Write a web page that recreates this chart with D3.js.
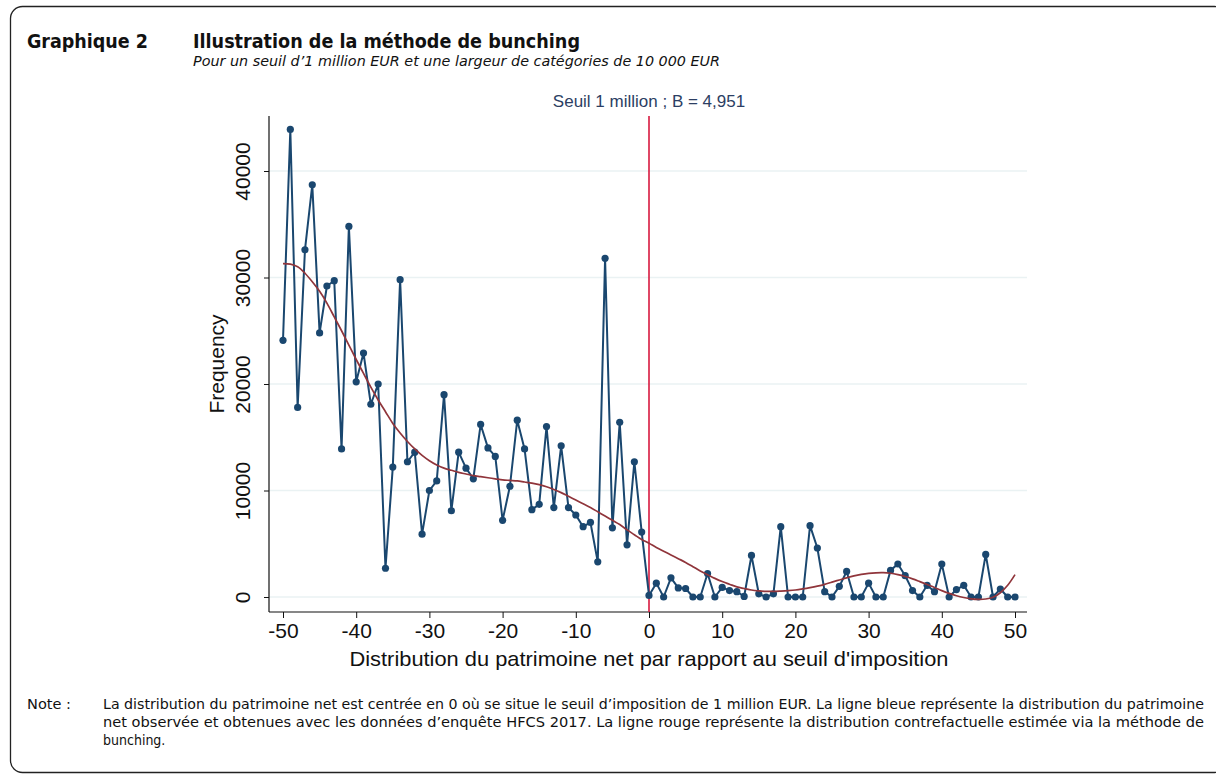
<!DOCTYPE html>
<html>
<head>
<meta charset="utf-8">
<script src="https://cdn.jsdelivr.net/npm/d3@7/dist/d3.min.js"></script>
<style>
  html, body { margin: 0; padding: 0; background: #fff; }
  svg { display: block; }
</style>
</head>
<body>
<svg id="chart" width="1216" height="776"></svg>
<script>
// ---- Data ----
const bins = d3.range(-50, 51); // -50 .. 50
const observed = [
  24100, 43900, 17800, 32600, 38700, 24800, 29200, 29700, 13900, 34800,
  20200, 22900, 18100, 20000, 2700, 12200, 29800, 12700, 13600, 5900,
  10000, 10900, 19000, 8100, 13600, 12100, 11100, 16200, 14000, 13200,
  7200, 10400, 16600, 13900, 8200, 8700, 16000, 8400, 14200, 8400,
  7700, 6600, 7000, 3300, 31800, 6500, 16400, 4900, 12700, 6100,
  150,
  1300, 0, 1800, 850, 800, 0, 0, 2200, 0, 900,
  600, 500, 50, 3900, 300, 0, 300, 6600, 0, 0,
  0, 6700, 4600, 500, 0, 1000, 2400, 0, 0, 1300,
  0, 0, 2500, 3100, 2000, 600, 0, 1100, 500, 3100,
  0, 700, 1100, 0, 0, 4000, 0, 750, 0, 0
];
const counterfactual = [
  31300, 31250, 31000, 30400, 29600, 28700, 27600, 26300, 25000, 23650,
  22300, 21000, 19700, 18500, 17400, 16300, 15400, 14600, 13900, 13300,
  12800, 12400, 12100, 11900, 11700, 11550, 11400, 11300, 11200, 11100,
  11000, 10950, 10900, 10800, 10700, 10550, 10350, 10100, 9800, 9450,
  9100, 8750, 8400, 8000, 7600, 7200, 6800, 6300, 5850, 5400,
  5050,
  4650, 4300, 3950, 3600, 3250, 2850, 2450, 2100, 1750, 1450,
  1200, 950, 800, 660, 580, 530, 530, 560, 600, 660,
  760, 880, 1020, 1190, 1400, 1600, 1800, 1980, 2120, 2220,
  2270, 2280, 2230, 2100, 1920, 1700, 1440, 1170, 900, 600,
  340, 120, -50, -170, -220, -190, -30, 400, 1100, 2100
];
const xTicks = [-50, -40, -30, -20, -10, 0, 10, 20, 30, 40, 50];
const yTicks = [0, 10000, 20000, 30000, 40000];
const threshold = 0;
const bunchingLabel = "Seuil 1 million ; B = 4,951";

const titleNum = "Graphique 2";
const titleText = "Illustration de la méthode de bunching";
const subtitleText = "Pour un seuil d\u20191 million EUR et une largeur de catégories de 10 000 EUR";
const noteLabel = "Note :";
const noteLines = [
  "La distribution du patrimoine net est centrée en 0 où se situe le seuil d\u2019imposition de 1 million EUR. La ligne bleue représente la distribution du patrimoine",
  "net observée et obtenues avec les données d\u2019enquête HFCS 2017. La ligne rouge représente la distribution contrefactuelle estimée via la méthode de",
  "bunching."
];

// ---- Layout ----
const svg = d3.select("#chart");
const plot = { left: 269, right: 1027, top: 116, bottom: 612 };
const x = d3.scaleLinear().domain([-50, 50]).range([283, 1015]);
const y = d3.scaleLinear().domain([0, 40000]).range([597, 171]);

const narrow = "'DejaVu Sans Condensed', 'Liberation Sans Narrow', 'DejaVu Sans', sans-serif";
const arial = "'Liberation Sans', Arial, sans-serif";

// frame
svg.append("rect")
  .attr("x", 10.5).attr("y", 6.5)
  .attr("width", 1216).attr("height", 766)
  .attr("rx", 12).attr("ry", 12)
  .attr("fill", "none").attr("stroke", "#222").attr("stroke-width", 1.3);

// titles
svg.append("text").attr("x", 27).attr("y", 48)
  .attr("font-family", narrow).attr("font-weight", "bold").attr("font-size", 20)
  .attr("textLength", 121).attr("lengthAdjust", "spacingAndGlyphs")
  .attr("fill", "#111").text(titleNum);
svg.append("text").attr("x", 193).attr("y", 48)
  .attr("font-family", narrow).attr("font-weight", "bold").attr("font-size", 20)
  .attr("textLength", 387).attr("lengthAdjust", "spacingAndGlyphs")
  .attr("fill", "#111").text(titleText);
svg.append("text").attr("x", 193).attr("y", 66)
  .attr("font-family", narrow).attr("font-style", "italic").attr("font-size", 14)
  .attr("textLength", 527).attr("lengthAdjust", "spacingAndGlyphs")
  .attr("fill", "#111").text(subtitleText);

// gridlines
svg.append("g").selectAll("line").data(yTicks).join("line")
  .attr("x1", plot.left).attr("x2", plot.right)
  .attr("y1", d => y(d)).attr("y2", d => y(d))
  .attr("stroke", "#eaf2f3").attr("stroke-width", 1.5);

// axes
const yAxis = d3.axisLeft(y).tickValues(yTicks).tickSize(5).tickFormat(d => String(d));
const yG = svg.append("g").attr("transform", `translate(${plot.left},0)`).call(yAxis);
yG.select(".domain").remove();
yG.selectAll(".tick line").attr("stroke", "#111");
yG.selectAll(".tick text").remove();
yG.selectAll(".tick").append("text")
  .attr("transform", "translate(-19,0) rotate(-90)")
  .attr("text-anchor", "middle")
  .attr("font-family", arial).attr("font-size", 21).attr("fill", "#111")
  .text(d => String(d));

const xAxis = d3.axisBottom(x).tickValues(xTicks).tickSize(6).tickFormat(d => String(d));
const xG = svg.append("g").attr("transform", `translate(0,${plot.bottom})`).call(xAxis);
xG.select(".domain").remove();
xG.selectAll(".tick line").attr("stroke", "#111");
xG.selectAll(".tick text")
  .attr("font-family", arial).attr("font-size", 21).attr("fill", "#111")
  .attr("y", 11).attr("dy", "0.71em");

// axis lines
svg.append("line").attr("x1", plot.left).attr("x2", plot.left)
  .attr("y1", plot.top).attr("y2", plot.bottom)
  .attr("stroke", "#111").attr("stroke-width", 1.2);
svg.append("line").attr("x1", plot.left).attr("x2", plot.right)
  .attr("y1", plot.bottom).attr("y2", plot.bottom)
  .attr("stroke", "#111").attr("stroke-width", 1.2);

// axis titles
svg.append("text")
  .attr("transform", `translate(224,${(plot.top + plot.bottom) / 2}) rotate(-90)`)
  .attr("text-anchor", "middle")
  .attr("font-family", arial).attr("font-size", 21).attr("fill", "#111")
  .text("Frequency");
svg.append("text")
  .attr("x", x(0)).attr("y", 666)
  .attr("text-anchor", "middle")
  .attr("font-family", arial).attr("font-size", 21).attr("fill", "#111")
  .attr("textLength", 599).attr("lengthAdjust", "spacingAndGlyphs")
  .text("Distribution du patrimoine net par rapport au seuil d'imposition");

// threshold line
svg.append("line").attr("x1", x(threshold)).attr("x2", x(threshold))
  .attr("y1", plot.top).attr("y2", plot.bottom)
  .attr("stroke", "#d7193f").attr("stroke-width", 1.6);
svg.append("text")
  .attr("x", x(threshold)).attr("y", 107)
  .attr("text-anchor", "middle")
  .attr("font-family", arial).attr("font-size", 17).attr("fill", "#2c3e63")
  .text(bunchingLabel);

// observed series
const obsData = bins.map((b, i) => ({ b, v: observed[i] }));
const cfData = bins.map((b, i) => ({ b, v: counterfactual[i] }));

svg.append("path").datum(obsData)
  .attr("fill", "none").attr("stroke", "#1a476f").attr("stroke-width", 2)
  .attr("stroke-linejoin", "round")
  .attr("d", d3.line().x(d => x(d.b)).y(d => y(d.v)));

svg.append("g").selectAll("circle").data(obsData).join("circle")
  .attr("cx", d => x(d.b)).attr("cy", d => y(d.v)).attr("r", 3.6)
  .attr("fill", "#1a476f");

// counterfactual
svg.append("path").datum(cfData)
  .attr("fill", "none").attr("stroke", "#90353b").attr("stroke-width", 1.7)
  .attr("d", d3.line().curve(d3.curveCatmullRom).x(d => x(d.b)).y(d => y(d.v)));

// note
svg.append("text").attr("x", 27).attr("y", 709)
  .attr("font-family", narrow).attr("font-size", 14).attr("fill", "#111")
  .attr("textLength", 44).attr("lengthAdjust", "spacingAndGlyphs")
  .text(noteLabel);
noteLines.forEach((t, i) => {
  const tx = svg.append("text").attr("x", 103).attr("y", 709 + i * 18)
    .attr("font-family", narrow).attr("font-size", 14).attr("fill", "#111")
    .text(t);
  if (i < 2) tx.attr("textLength", 1101).attr("lengthAdjust", "spacingAndGlyphs");
});
</script>
</body>
</html>
